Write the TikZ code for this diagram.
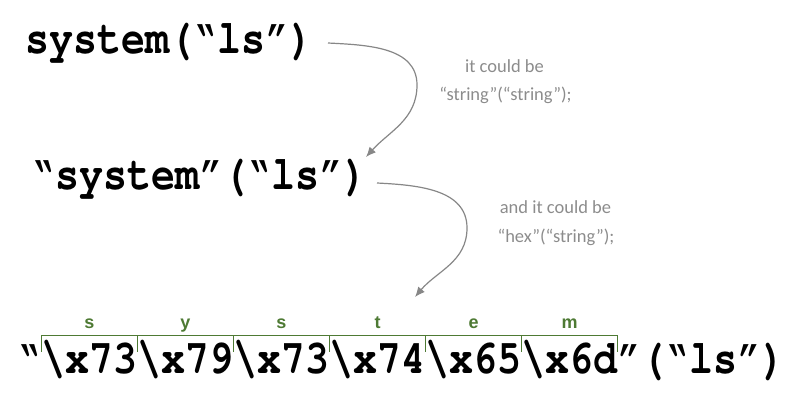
\documentclass[tikz,border=0pt]{standalone}
\usepackage[T1]{fontenc}
\usepackage{graphicx}
\usepackage{fontspec}
\usetikzlibrary{arrows.meta,calc}
\newfontfamily\notefont{Carlito}
\newfontfamily\greenfont{Liberation Sans}
\definecolor{notegray}{RGB}{140,140,140}
\definecolor{arrowgray}{RGB}{135,135,135}
\definecolor{hexgreen}{RGB}{78,122,52}
\newcommand\codefont{\fontencoding{T1}\fontfamily{pcr}\fontseries{b}\fontshape{n}\fontsize{40}{40}\selectfont}
\newcommand\cd[1]{\scalebox{1}[1.2]{\codefont #1}}
\newcommand\oq{\textquotedblleft}
\newcommand\cq{\textquotedblright}
\newcommand\bsl{\textbackslash}
\tikzset{
  code/.style={inner sep=0pt, outer sep=0pt, anchor=base west, text=black},
  note/.style={inner sep=0pt, anchor=base, text=notegray, font=\notefont\fontsize{18.5}{18.5}\selectfont},
  hexlab/.style={inner sep=0pt, anchor=base, text=hexgreen, font=\greenfont\bfseries\fontsize{18}{18}\selectfont},
  brk/.style={draw=hexgreen, line width=0.9pt},
  curvearrow/.style={draw=arrowgray, line width=1.2pt, -{Latex[length=10pt,width=8.5pt]}}
}
\begin{document}
\begin{tikzpicture}[x=1pt,y=1pt]
\useasboundingbox (0,0) rectangle (800,400);
% line 1
\node[code] (l1) at (25,347) {\cd{system(\oq ls\cq)}};
% line 2
\node[code] (l2) at (31,211) {\cd{\oq system\cq(\oq ls\cq)}};
% line 3
\node[code] (q0) at (17.5,27) {\cd{\oq}};
\node[code] (h1) at (q0.base east) {\cd{\bsl x73}};
\node[code] (h2) at (h1.base east) {\cd{\bsl x79}};
\node[code] (h3) at (h2.base east) {\cd{\bsl x73}};
\node[code] (h4) at (h3.base east) {\cd{\bsl x74}};
\node[code] (h5) at (h4.base east) {\cd{\bsl x65}};
\node[code] (h6) at (h5.base east) {\cd{\bsl x6d}};
\node[code] (tail) at (h6.base east) {\cd{\cq(\oq ls\cq)}};
% bracket
\coordinate (bt) at (0,65);
\coordinate (bb) at (0,48);
\coordinate (lb) at (0,72);
\draw[brk] (h1.west |- bt) -- (h6.east |- bt);
\foreach \n in {h1,h2,h3,h4,h5,h6}{
  \draw[brk] (\n.west |- bt) -- (\n.west |- bb);
}
\draw[brk] (h6.east |- bt) -- (h6.east |- bb);
\node[hexlab] (g1) at (h1.base |- lb) {s};
\node[hexlab] (g2) at (h2.base |- lb) {y};
\node[hexlab] (g3) at (h3.base |- lb) {s};
\node[hexlab] (g4) at (h4.base |- lb) {t};
\node[hexlab] (g5) at (h5.base |- lb) {e};
\node[hexlab] (g6) at (h6.base |- lb) {m};
% notes
\node[note] (n1a) at (504.5,327) {it could be};
\node[note] (n1b) at (505.5,300) {“string”(“string”);};
\node[note] (n2a) at (555.5,186.7) {and it could be};
\node[note] (n2b) at (556,157.3) {“hex”(“string”);};
% arrows
\coordinate (a1s) at (328,357);
\coordinate (a1m) at (417,315);
\coordinate (a1e) at (366,243);
\coordinate (a2s) at (377,217);
\coordinate (a2m) at (467,172);
\coordinate (a2e) at (415,103);
\draw[curvearrow] (a1s) to[out=-3,in=90] (a1m) to[out=-90,in=48] (a1e);
\draw[curvearrow] (a2s) to[out=-3,in=90] (a2m) to[out=-90,in=50] (a2e);
\end{tikzpicture}
\end{document}
